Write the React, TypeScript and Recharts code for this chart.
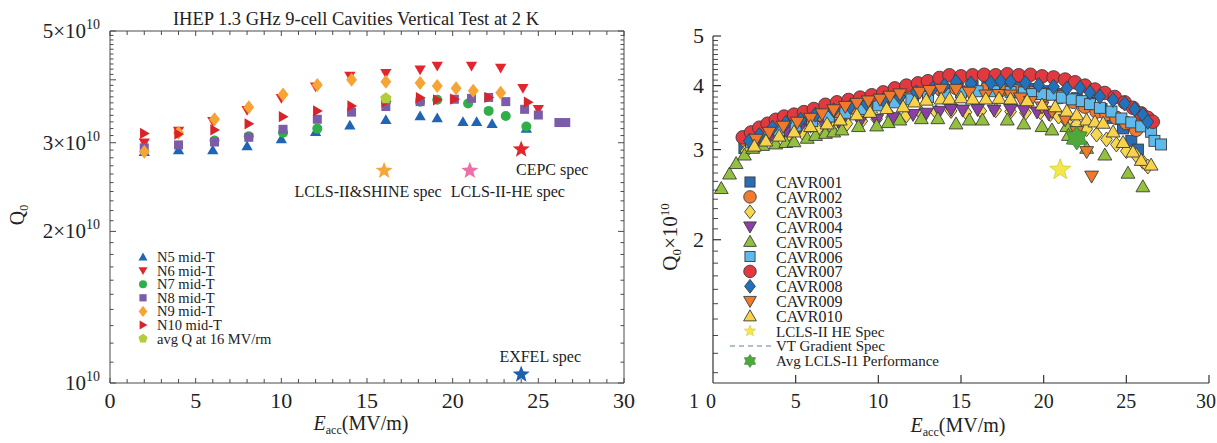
import { ScatterChart, Scatter, XAxis, YAxis } from 'recharts'

const SERIF = '"Liberation Serif", "Times New Roman", serif'
const INK = '#4a4a4a'

// ---------- left panel: IHEP mid-T cavities, Q0 in units of 1e10 ----------
const n5: [number, number][] = [
  [2, 2.88], [4, 2.9], [6, 2.9], [8, 2.955], [10, 3.05], [12, 3.155], [14, 3.25],
  [16.1, 3.33], [18.1, 3.39], [19.1, 3.36], [20.6, 3.3], [21.4, 3.3], [22.3, 3.27], [24.3, 3.2],
]
const n6: [number, number][] = [
  [2, 3.0], [4, 3.165], [6, 3.31], [8, 3.48], [10, 3.675], [12, 3.875], [14, 4.07],
  [16.1, 4.12], [18.1, 4.19], [19.1, 4.26], [21.1, 4.26], [22.8, 4.22], [24.1, 3.85], [25, 3.495],
]
const n7: [number, number][] = [
  [6.1, 3.03], [8.1, 3.09], [10.1, 3.14], [12.1, 3.2], [16.1, 3.62], [18.1, 3.62],
  [19.1, 3.65], [20.9, 3.59], [22.1, 3.47], [23.1, 3.39], [24.3, 3.23],
]
const n8: [number, number][] = [
  [2, 2.93], [4, 2.97], [6.1, 3.01], [8.1, 3.075], [10.1, 3.19], [12.1, 3.34], [14.1, 3.45],
  [16.1, 3.54], [18.1, 3.62], [20.1, 3.66], [21.1, 3.675], [22.1, 3.69], [23.1, 3.62],
  [24.2, 3.495], [25, 3.405], [26.2, 3.29], [26.6, 3.29],
]
const n9: [number, number][] = [
  [2, 2.88], [4, 3.14], [6.1, 3.34], [8.1, 3.53], [10.1, 3.74], [12.1, 3.906], [14.1, 4.0],
  [16.1, 3.965], [18.1, 3.94], [19.1, 3.89], [20.2, 3.85], [21.2, 3.805], [22.8, 3.77],
]
const n10: [number, number][] = [
  [2, 3.13], [4, 3.12], [6.1, 3.18], [8.1, 3.27], [10.1, 3.38], [12.1, 3.47], [14.1, 3.55],
  [16.1, 3.62], [18.1, 3.686], [19.1, 3.65], [20.1, 3.66], [22.1, 3.69], [24.4, 3.61],
]
const avgQ16: [number, number][] = [[16.1, 3.675]]
const shineSpec: [number, number][] = [[16, 2.64]]
const heSpec: [number, number][] = [[21, 2.64]]
const cepcSpec: [number, number][] = [[24, 2.91]]
const exfelSpec: [number, number][] = [[24, 1.04]]

// ---------- right panel: CAVR vertical tests, Q0 x 1e10 ----------
const cavr001: [number, number][] = [
  [1.9, 3.02], [2.5, 3.12], [3.2, 3.22], [4.0, 3.3], [4.9, 3.37], [5.8, 3.43], [6.7, 3.49],
  [7.6, 3.55], [8.5, 3.61], [9.4, 3.66], [10.3, 3.71], [11.2, 3.77], [12.1, 3.83], [13.0, 3.88],
  [13.9, 3.93], [14.8, 3.98], [15.7, 3.99], [16.6, 4.0], [17.5, 3.99], [18.4, 3.97], [19.3, 3.94],
  [20.2, 3.9], [21.1, 3.85], [22.0, 3.78], [22.8, 3.7], [23.5, 3.6], [24.2, 3.46], [24.8, 3.3],
  [25.3, 3.12], [25.7, 3.0],
]
const cavr002: [number, number][] = [
  [2.0, 3.12], [2.6, 3.2], [3.3, 3.27], [4.0, 3.33], [4.8, 3.38], [5.7, 3.43], [6.6, 3.5],
  [7.5, 3.57], [8.4, 3.63], [9.3, 3.7], [10.2, 3.76], [11.1, 3.82], [12.0, 3.86], [12.9, 3.9],
  [13.8, 3.93], [14.7, 3.96], [15.6, 3.95], [16.5, 3.93], [17.4, 3.92], [18.3, 3.9], [19.2, 3.87],
  [20.1, 3.84], [21.0, 3.8], [21.8, 3.72], [22.5, 3.64], [23.2, 3.56], [23.8, 3.52], [24.4, 3.46],
  [25.0, 3.38], [25.6, 3.28], [26.0, 3.42],
]
const cavr003: [number, number][] = [
  [2.0, 2.98], [2.8, 3.07], [3.6, 3.13], [4.5, 3.19], [5.4, 3.24], [6.3, 3.28], [7.2, 3.32],
  [8.1, 3.37], [9.0, 3.41], [9.9, 3.44], [10.8, 3.47], [11.7, 3.5], [12.6, 3.53], [13.5, 3.55],
  [14.4, 3.57], [15.3, 3.55], [16.2, 3.57], [17.1, 3.58], [18.0, 3.56], [18.9, 3.54], [19.8, 3.55],
  [20.4, 3.52], [20.9, 3.48], [21.4, 3.4], [22.0, 3.36], [22.6, 3.29], [23.2, 3.21], [23.8, 3.14],
  [24.4, 3.07], [25.0, 2.98], [25.6, 2.92], [26.0, 2.84], [26.3, 2.78],
]
const cavr004: [number, number][] = [
  [2.6, 3.1], [3.4, 3.16], [4.4, 3.25], [5.2, 3.29], [5.9, 3.33], [6.8, 3.33], [7.7, 3.36],
  [8.9, 3.4], [9.9, 3.43], [10.9, 3.46], [12.1, 3.51], [12.9, 3.53], [13.7, 3.56], [14.4, 3.59],
  [15.1, 3.58], [16.0, 3.59], [17.0, 3.58], [18.0, 3.59], [18.8, 3.58], [19.6, 3.55], [20.3, 3.52],
]
const cavr005: [number, number][] = [
  [0.5, 2.52], [1.0, 2.69], [1.4, 2.82], [1.9, 2.93], [2.4, 3.02], [3.0, 3.06], [3.8, 3.08],
  [4.4, 3.1], [4.9, 3.11], [5.7, 3.16], [6.2, 3.2], [6.8, 3.23], [7.3, 3.25], [7.8, 3.28],
  [8.8, 3.33], [9.9, 3.34], [10.6, 3.39], [11.3, 3.43], [12.6, 3.45], [13.6, 3.45], [14.7, 3.37],
  [15.5, 3.43], [16.3, 3.43], [17.8, 3.43], [18.8, 3.37], [19.9, 3.33], [20.5, 3.28], [21.4, 3.33],
  [21.5, 3.2], [22.6, 3.02], [23.7, 2.93], [25.1, 2.7], [26.0, 2.54],
]
const cavr006: [number, number][] = [
  [2.3, 3.1], [3.1, 3.19], [4.0, 3.27], [5.0, 3.34], [6.0, 3.41], [7.0, 3.48], [8.0, 3.54],
  [9.0, 3.6], [10.0, 3.66], [11.0, 3.71], [12.0, 3.76], [13.0, 3.8], [14.0, 3.85], [15.0, 3.88],
  [16.0, 3.9], [17.0, 3.9], [18.0, 3.89], [18.8, 3.88], [19.3, 3.85], [19.9, 3.85], [20.5, 3.84],
  [21.1, 3.79], [21.7, 3.76], [22.3, 3.73], [22.8, 3.68], [23.4, 3.62], [24.1, 3.56], [24.7, 3.45],
  [25.3, 3.39], [25.9, 3.33], [26.5, 3.25], [26.7, 3.12], [27.1, 3.07],
]
const cavr007: [number, number][] = [
  [1.8, 3.17], [2.3, 3.24], [2.8, 3.31], [3.3, 3.37], [3.8, 3.43], [4.3, 3.48], [4.9, 3.51],
  [5.5, 3.55], [6.1, 3.6], [6.8, 3.67], [7.5, 3.71], [8.2, 3.75], [8.9, 3.79], [9.6, 3.83],
  [10.3, 3.88], [11.0, 3.95], [11.7, 4.0], [12.4, 4.04], [13.0, 4.08], [13.7, 4.14], [14.3, 4.19],
  [15.0, 4.17], [15.7, 4.19], [16.4, 4.2], [17.1, 4.19], [17.8, 4.21], [18.5, 4.19], [19.2, 4.2],
  [19.9, 4.17], [20.6, 4.15], [21.3, 4.11], [21.9, 4.06], [22.5, 4.0], [23.1, 3.93], [23.7, 3.87],
  [24.3, 3.8], [24.9, 3.71], [25.4, 3.62], [25.9, 3.53], [26.3, 3.46], [26.6, 3.4],
]
const cavr008: [number, number][] = [
  [2.2, 3.12], [2.8, 3.2], [3.6, 3.31], [4.4, 3.38], [5.3, 3.43], [6.2, 3.51], [7.3, 3.58],
  [8.3, 3.64], [9.3, 3.69], [10.3, 3.75], [11.3, 3.8], [12.3, 3.88], [13.3, 3.95], [14.0, 4.0],
  [14.7, 4.07], [15.6, 4.04], [16.8, 4.05], [17.4, 4.08], [18.0, 4.07], [18.9, 4.05], [19.7, 4.01],
  [20.6, 3.98], [21.4, 3.95], [22.2, 3.96], [22.8, 3.88], [23.4, 3.81], [24.2, 3.75], [24.9, 3.69],
  [25.5, 3.6], [26.0, 3.51], [26.3, 3.4],
]
const cavr009: [number, number][] = [
  [2.6, 3.14], [3.4, 3.24], [4.25, 3.33], [5.1, 3.39], [5.9, 3.45], [6.6, 3.52], [7.3, 3.585],
  [8.0, 3.64], [8.7, 3.69], [9.4, 3.73], [10.1, 3.76], [10.7, 3.81], [11.3, 3.85], [12.5, 3.88],
  [13.1, 3.91], [13.8, 3.93], [14.7, 3.93], [15.5, 3.88], [16.5, 3.83], [17.3, 3.84], [18.0, 3.83],
  [18.6, 3.78], [19.2, 3.72], [19.9, 3.63], [20.5, 3.56], [21.3, 3.43], [22.0, 3.25], [22.6, 2.97],
  [22.9, 2.66],
]
const cavr010: [number, number][] = [
  [2.5, 3.05], [3.2, 3.12], [4.0, 3.19], [4.9, 3.25], [5.9, 3.33], [6.9, 3.37], [7.7, 3.43],
  [8.7, 3.51], [9.5, 3.55], [10.5, 3.61], [11.5, 3.64], [12.2, 3.72], [12.9, 3.75], [13.8, 3.77],
  [14.3, 3.77], [15.0, 3.79], [15.7, 3.77], [16.5, 3.77], [17.3, 3.78], [18.0, 3.77], [19.0, 3.74],
  [19.9, 3.67], [20.7, 3.64], [21.4, 3.57], [22.0, 3.51], [22.6, 3.43], [23.1, 3.4], [23.6, 3.38],
  [24.2, 3.25], [24.8, 3.1], [25.4, 2.97], [25.9, 2.86], [26.5, 2.8],
]
const lclsHeSpec: [number, number][] = [[21.0, 2.74]]
const lclsAvg: [number, number][] = [[22.0, 3.16]]

const LEFT_X_TICKS = Array.from({ length: 31 }, (_, i) => i)
const RIGHT_X_TICKS = [0, 5, 10, 15, 20, 25, 30]
const LEFT_Y_TICKS = Array.from({ length: 41 }, (_, i) => Math.round((1 + i * 0.1) * 10) / 10)
const RIGHT_Y_TICKS = Array.from({ length: 40 }, (_, i) => Math.round((1.1 + i * 0.1) * 10) / 10)
const LEFT_Y_LABELS: Record<number, string> = { 5: '5×10', 3: '3×10', 2: '2×10', 1: '10' }

const pts = (rows: [number, number][]) => rows.map(([x, y]) => ({ x, y }))

type Kind = 'up' | 'down' | 'right' | 'square' | 'diamond' | 'circle' | 'pentagon' | 'star5' | 'star6'

function ring(cx: number, cy: number, radii: number[], n: number, start: number) {
  const out: string[] = []
  for (let i = 0; i < n; i++) {
    const a = ((start + (360 / n) * i) * Math.PI) / 180
    const r = radii[i % radii.length]
    out.push(`${(cx + r * Math.cos(a)).toFixed(2)},${(cy + r * Math.sin(a)).toFixed(2)}`)
  }
  return out.join(' ')
}

function Glyph({ kind, cx, cy, r, fill, stroke = 'none', sw = 0 }: {
  kind: Kind; cx: number; cy: number; r: number; fill: string; stroke?: string; sw?: number
}) {
  const st = { fill, stroke, strokeWidth: sw }
  switch (kind) {
    case 'circle':
      return <circle cx={cx} cy={cy} r={r} {...st} />
    case 'square':
      return <rect x={cx - r} y={cy - r} width={2 * r} height={2 * r} {...st} />
    case 'diamond':
      return <polygon points={`${cx},${cy - r} ${cx + r * 0.78},${cy} ${cx},${cy + r} ${cx - r * 0.78},${cy}`} {...st} />
    case 'up':
      return <polygon points={ring(cx, cy + r * 0.15, [r], 3, -90)} {...st} />
    case 'down':
      return <polygon points={ring(cx, cy - r * 0.15, [r], 3, 90)} {...st} />
    case 'right':
      return <polygon points={ring(cx - r * 0.15, cy, [r], 3, 0)} {...st} />
    case 'pentagon':
      return <polygon points={ring(cx, cy, [r], 5, -90)} {...st} />
    case 'star5':
      return <polygon points={ring(cx, cy, [r, r * 0.42], 10, -90)} {...st} />
    case 'star6':
      return <polygon points={ring(cx, cy, [r, r * 0.62], 12, -90)} {...st} />
  }
}

const mark = (kind: Kind, r: number, fill: string, stroke?: string, sw?: number) =>
  (p: any) => <Glyph kind={kind} cx={p.cx} cy={p.cy} r={r} fill={fill} stroke={stroke} sw={sw} />

const specMark = (fill: string, text: string, dx: number, dy: number) => (p: any) => (
  <g>
    <Glyph kind="star5" cx={p.cx} cy={p.cy} r={9} fill={fill} />
    <text x={p.cx + dx} y={p.cy + dy} textAnchor="middle" fontFamily={SERIF} fontSize={16} fill="#222">
      {text}
    </text>
  </g>
)

// ---------- tick renderers ----------
const LeftBottomTick = (p: any) => {
  const v = p.payload.value
  const major = v % 5 === 0
  return (
    <g>
      <line x1={p.x} x2={p.x} y1={p.y} y2={p.y - (major ? 5 : 4)} stroke={INK} />
      {major && (
        <text x={p.x} y={p.y + 25} textAnchor="middle" fontFamily={SERIF} fontSize={22} fill="#222">{v}</text>
      )}
    </g>
  )
}
const LeftTopTick = (p: any) => (
  <line x1={p.x} x2={p.x} y1={p.y} y2={p.y + (p.payload.value % 5 === 0 ? 5 : 4)} stroke={INK} />
)
const LeftYTick = (p: any) => {
  const v = p.payload.value
  const major = Number.isInteger(v)
  const lbl = LEFT_Y_LABELS[v]
  return (
    <g>
      <line x1={p.x} x2={p.x + (major ? 6 : 3.5)} y1={p.y} y2={p.y} stroke={INK} />
      {lbl && (
        <text x={p.x - 10} y={p.y + 7} textAnchor="end" fontFamily={SERIF} fontSize={21} fill="#222">
          {lbl}
          <tspan fontSize={14} dy={-9}>10</tspan>
        </text>
      )}
    </g>
  )
}
const LeftRightTick = (p: any) => {
  const major = Number.isInteger(p.payload.value)
  return <line x1={p.x} x2={p.x - (major ? 6 : 3.5)} y1={p.y} y2={p.y} stroke={INK} />
}
const RightBottomTick = (p: any) => {
  const v = p.payload.value
  const t = { fontFamily: SERIF, fontSize: 20, fill: '#222' }
  return (
    <g>
      {v > 0 && <line x1={p.x} x2={p.x} y1={p.y} y2={p.y - 8} stroke="#333" strokeWidth={1.2} />}
      {v === 0 ? (
        <>
          <text x={p.x - 19} y={p.y + 25} textAnchor="middle" {...t}>1</text>
          <text x={p.x - 2} y={p.y + 25} textAnchor="middle" {...t}>0</text>
        </>
      ) : v === 30 ? (
        <text x={p.x + 7} y={p.y + 25} textAnchor="end" {...t}>{v}</text>
      ) : (
        <text x={p.x} y={p.y + 25} textAnchor="middle" {...t}>{v}</text>
      )}
    </g>
  )
}
const RightYTick = (p: any) => {
  const v = p.payload.value
  const major = Number.isInteger(v)
  return (
    <g>
      <line x1={p.x} x2={p.x + (major ? 8 : 5)} y1={p.y} y2={p.y} stroke="#333" strokeWidth={major ? 1.2 : 0.9} />
      {major && (
        <text x={p.x - 9} y={p.y + 7} textAnchor="end" fontFamily={SERIF} fontSize={22} fill="#222">{v}</text>
      )}
    </g>
  )
}

const LEFT_SERIES = [
  { name: 'N5 mid-T', rows: n5, kind: 'up' as Kind, r: 6.5, color: '#1f64b5' },
  { name: 'N6 mid-T', rows: n6, kind: 'down' as Kind, r: 6.5, color: '#e3262d' },
  { name: 'N7 mid-T', rows: n7, kind: 'circle' as Kind, r: 5, color: '#2fae49' },
  { name: 'N8 mid-T', rows: n8, kind: 'square' as Kind, r: 4.5, color: '#7b5ca8' },
  { name: 'N9 mid-T', rows: n9, kind: 'diamond' as Kind, r: 7, color: '#f6a434' },
  { name: 'N10 mid-T', rows: n10, kind: 'right' as Kind, r: 6.5, color: '#d9232a' },
  { name: 'avg Q at 16 MV/rm', rows: avgQ16, kind: 'pentagon' as Kind, r: 6, color: '#b4cc3a' },
]

const RIGHT_SERIES = [
  { name: 'CAVR001', rows: cavr001, kind: 'square' as Kind, r: 5.5, color: '#2a6db5' },
  { name: 'CAVR002', rows: cavr002, kind: 'circle' as Kind, r: 6.8, color: '#f07c32' },
  { name: 'CAVR003', rows: cavr003, kind: 'diamond' as Kind, r: 7.5, color: '#f6d84e' },
  { name: 'CAVR004', rows: cavr004, kind: 'down' as Kind, r: 8, color: '#8b3ea6' },
  { name: 'CAVR005', rows: cavr005, kind: 'up' as Kind, r: 8, color: '#93c13e' },
  { name: 'CAVR006', rows: cavr006, kind: 'square' as Kind, r: 5.5, color: '#5fb9ea' },
  { name: 'CAVR007', rows: cavr007, kind: 'circle' as Kind, r: 6.8, color: '#e2383f' },
  { name: 'CAVR008', rows: cavr008, kind: 'diamond' as Kind, r: 7.5, color: '#2271bb' },
  { name: 'CAVR009', rows: cavr009, kind: 'down' as Kind, r: 8, color: '#ef7a2c' },
  { name: 'CAVR010', rows: cavr010, kind: 'up' as Kind, r: 8, color: '#f7d24a' },
]
const EDGE = '#3c3c3c'

function LeftPanel() {
  return (
    <ScatterChart width={640} height={443} margin={{ top: 0, right: 0, bottom: 0, left: 0 }}>
      <XAxis xAxisId="b" type="number" dataKey="x" domain={[0, 30]} ticks={LEFT_X_TICKS} interval={0}
        height={60} tickSize={0} tickMargin={0} tick={LeftBottomTick} axisLine={{ stroke: INK }} allowDataOverflow />
      <XAxis xAxisId="t" orientation="top" type="number" dataKey="x" domain={[0, 30]} ticks={LEFT_X_TICKS} interval={0}
        height={31} tickSize={0} tickMargin={0} tick={LeftTopTick} axisLine={{ stroke: INK }} allowDataOverflow />
      <YAxis yAxisId="l" type="number" dataKey="y" scale="log" domain={[1, 5]} ticks={LEFT_Y_TICKS} interval={0}
        width={110} tickSize={0} tickMargin={0} tick={LeftYTick} axisLine={{ stroke: INK }} allowDataOverflow />
      <YAxis yAxisId="r" orientation="right" type="number" dataKey="y" scale="log" domain={[1, 5]} ticks={LEFT_Y_TICKS}
        interval={0} width={16} tickSize={0} tickMargin={0} tick={LeftRightTick} axisLine={{ stroke: INK }} allowDataOverflow />
      {LEFT_SERIES.map((s) => (
        <Scatter key={s.name} xAxisId="b" yAxisId="l" data={pts(s.rows)} isAnimationActive={false}
          shape={mark(s.kind, s.r, s.color)} />
      ))}
      <Scatter xAxisId="b" yAxisId="l" data={pts(shineSpec)} isAnimationActive={false}
        shape={specMark('#f5a83a', 'LCLS-II&SHINE spec', -16, 26)} />
      <Scatter xAxisId="b" yAxisId="l" data={pts(heSpec)} isAnimationActive={false}
        shape={specMark('#ec6fa8', 'LCLS-II-HE spec', 38, 26)} />
      <Scatter xAxisId="b" yAxisId="l" data={pts(cepcSpec)} isAnimationActive={false}
        shape={specMark('#e3262d', 'CEPC spec', 31, 26)} />
      <Scatter xAxisId="b" yAxisId="l" data={pts(exfelSpec)} isAnimationActive={false}
        shape={specMark('#1f5fb0', 'EXFEL spec', 19, -12)} />
    </ScatterChart>
  )
}

function RightPanel() {
  return (
    <ScatterChart width={577} height={443} margin={{ top: 36, right: 8, bottom: 0, left: 0 }}>
      <XAxis type="number" dataKey="x" domain={[0, 30]} ticks={RIGHT_X_TICKS} interval={0} height={60}
        tickSize={0} tickMargin={0} tick={RightBottomTick} axisLine={{ stroke: '#333', strokeWidth: 1.2 }} allowDataOverflow />
      <YAxis type="number" dataKey="y" scale="log" domain={[1.05, 5]} ticks={RIGHT_Y_TICKS} interval={0} width={73}
        tickSize={0} tickMargin={0} tick={RightYTick} axisLine={{ stroke: '#333', strokeWidth: 1.2 }} allowDataOverflow />
      {RIGHT_SERIES.map((s) => (
        <Scatter key={s.name} data={pts(s.rows)} isAnimationActive={false}
          shape={mark(s.kind, s.r, s.color, EDGE, 0.9)} />
      ))}
      <Scatter data={pts(lclsAvg)} isAnimationActive={false} shape={mark('star6', 12, '#4ea83c', '#3d7f30', 0.8)} />
      <Scatter data={pts(lclsHeSpec)} isAnimationActive={false} shape={mark('star5', 11, '#f2e84a', '#d8c930', 0.8)} />
    </ScatterChart>
  )
}

function Overlay() {
  const txt = { fontFamily: SERIF, fill: '#222' }
  return (
    <svg width={1217} height={443} style={{ position: 'absolute', left: 0, top: 0, pointerEvents: 'none' }}>
      <text x={356} y={25} textAnchor="middle" fontSize={18.5} {...txt}>
        IHEP 1.3 GHz 9-cell Cavities Vertical Test at 2 K
      </text>
      <text transform="translate(24,215) rotate(-90)" textAnchor="middle" fontSize={20} {...txt}>
        Q<tspan fontSize={12} dy={4}>0</tspan>
      </text>
      <text x={361} y={430} textAnchor="middle" fontSize={20} {...txt}>
        <tspan fontStyle="italic">E</tspan>
        <tspan fontSize={12} dy={4}>acc</tspan>
        <tspan dy={-4}>(MV/m)</tspan>
      </text>
      <text x={958} y={432} textAnchor="middle" fontSize={20} {...txt}>
        <tspan fontStyle="italic">E</tspan>
        <tspan fontSize={12} dy={4}>acc</tspan>
        <tspan dy={-4}>(MV/m)</tspan>
      </text>
      <text transform="translate(677,237) rotate(-90)" textAnchor="middle" fontSize={21} {...txt}>
        Q<tspan fontSize={13} dy={4}>0</tspan>
        <tspan dy={-4}>×10</tspan>
        <tspan fontSize={13} dy={-8}>10</tspan>
      </text>

      {LEFT_SERIES.map((s, i) => {
        const cy = 257 + i * 13.6
        return (
          <g key={s.name}>
            <Glyph kind={s.kind} cx={143} cy={cy} r={s.r * 0.8} fill={s.color} />
            <text x={157} y={cy + 5} fontSize={14.5} {...txt}>{s.name}</text>
          </g>
        )
      })}

      {RIGHT_SERIES.map((s, i) => {
        const cy = 182 + i * 14.9
        return (
          <g key={s.name}>
            <Glyph kind={s.kind} cx={750} cy={cy} r={s.r * 0.92} fill={s.color} stroke={EDGE} sw={0.9} />
            <text x={776} y={cy + 6} fontSize={16} {...txt}>{s.name}</text>
          </g>
        )
      })}
      <Glyph kind="star5" cx={750} cy={331} r={6} fill="#f2e84a" stroke="#d8c930" sw={0.6} />
      <text x={776} y={337} fontSize={15} {...txt}>LCLS-II HE Spec</text>
      <line x1={730} x2={771} y1={346} y2={346} stroke="#5a7fa8" strokeWidth={1} strokeDasharray="5 4" />
      <text x={776} y={351} fontSize={15} {...txt}>VT Gradient Spec</text>
      <Glyph kind="star6" cx={750} cy={361} r={6.5} fill="#4ea83c" stroke="#3d7f30" sw={0.6} />
      <text x={776} y={366} fontSize={15} {...txt}>Avg LCLS-I1 Performance</text>
    </svg>
  )
}

export default function App() {
  return (
    <div style={{ position: 'relative', width: 1217, height: 443, background: '#fff', overflow: 'hidden' }}>
      <style>{'body{margin:0}'}</style>
      <div style={{ position: 'absolute', left: 0, top: 0 }}>
        <LeftPanel />
      </div>
      <div style={{ position: 'absolute', left: 640, top: 0 }}>
        <RightPanel />
      </div>
      <Overlay />
    </div>
  )
}
